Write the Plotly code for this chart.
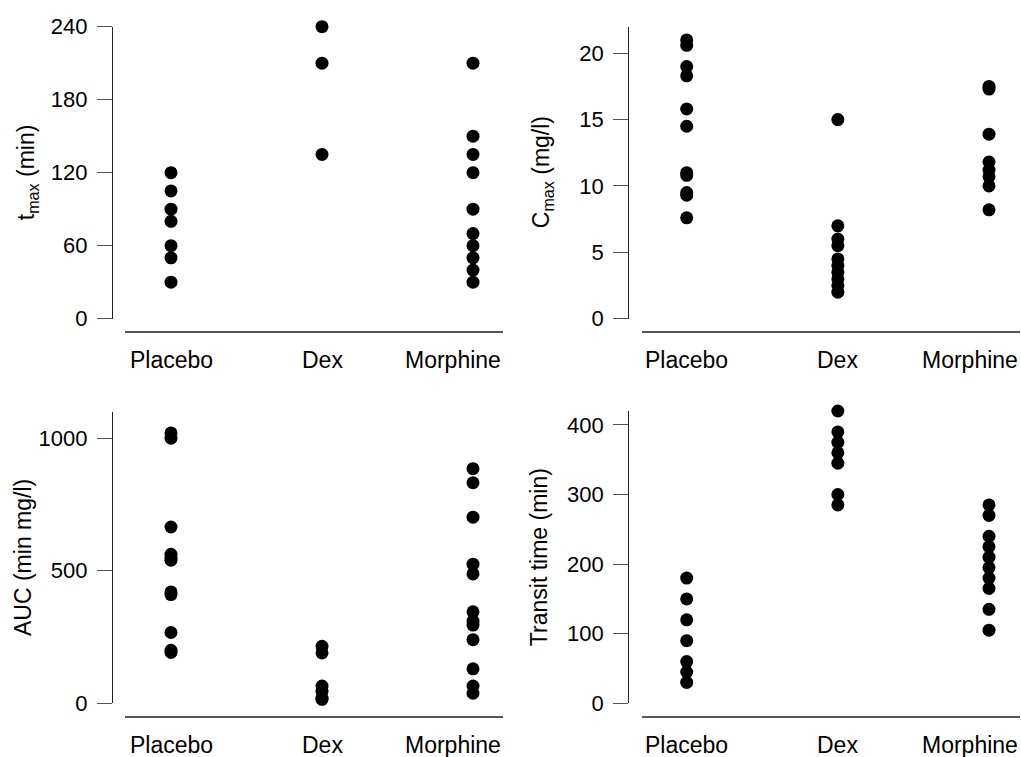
import plotly.graph_objects as go

# Treatment groups shown on every panel
categories = ["Placebo", "Dex", "Morphine"]

# t_max (min)
tmax_placebo = [120, 105, 90, 80, 60, 50, 30]
tmax_dex = [240, 210, 135]
tmax_morphine = [210, 150, 135, 120, 90, 70, 60, 50, 40, 30]

# C_max (mg/l)
cmax_placebo = [21.0, 20.6, 19.0, 18.3, 15.8, 14.5, 11.0, 10.8, 9.5, 9.3, 7.6]
cmax_dex = [15.0, 7.0, 6.0, 5.5, 4.5, 4.0, 3.5, 3.0, 2.5, 2.0]
cmax_morphine = [17.5, 17.3, 13.9, 11.8, 11.2, 10.7, 10.0, 8.2]

# AUC (min mg/l)
auc_placebo = [1020, 1000, 665, 562, 550, 540, 420, 410, 267, 200, 192]
auc_dex = [215, 190, 65, 45, 20, 15]
auc_morphine = [885, 832, 702, 525, 488, 345, 310, 295, 240, 130, 65, 38]

# Transit time (min)
transit_placebo = [180, 150, 120, 90, 60, 45, 30]
transit_dex = [420, 390, 375, 360, 345, 300, 285]
transit_morphine = [285, 270, 240, 225, 210, 195, 180, 165, 135, 105]

W, H = 1021, 757
FONT = "Liberation Sans, Arial, Helvetica, sans-serif"


def px_x(p):
    return p / W


def px_y(p):
    return 1 - p / H


panels = [
    dict(title="t<sub>max</sub> (min)", groups=[tmax_placebo, tmax_dex, tmax_morphine],
         yrange=[0, 240], ticks=[0, 60, 120, 180, 240], title_x=27.5,
         yline_x=112, xdom=(125, 503), xcats=(171, 473), ytop=26.7, ybot=318.7, xline=331.7),
    dict(title="C<sub>max</sub> (mg/l)", groups=[cmax_placebo, cmax_dex, cmax_morphine],
         yrange=[0, 22], ticks=[0, 5, 10, 15, 20], title_x=542.5,
         yline_x=628.3, xdom=(641.7, 1020), xcats=(686.7, 989), ytop=26.7, ybot=318.7, xline=331.7),
    dict(title="AUC (min mg/l)", groups=[auc_placebo, auc_dex, auc_morphine],
         yrange=[0, 1100], ticks=[0, 500, 1000], title_x=22.5,
         yline_x=112, xdom=(125, 503), xcats=(171, 473), ytop=411.7, ybot=703.3, xline=716.7),
    dict(title="Transit time (min)", groups=[transit_placebo, transit_dex, transit_morphine],
         yrange=[0, 420], ticks=[0, 100, 200, 300, 400], title_x=539,
         yline_x=628.3, xdom=(641.7, 1020), xcats=(686.7, 989), ytop=411.0, ybot=703.3, xline=716.7),
]

fig = go.Figure()
annotations = []
layout = dict(
    template="none",
    width=W, height=H,
    margin=dict(l=0, r=0, t=0, b=0, autoexpand=False),
    paper_bgcolor="white", plot_bgcolor="white",
    showlegend=False,
    font=dict(family=FONT, size=22, color="black"),
)

for i, p in enumerate(panels, start=1):
    sfx = "" if i == 1 else str(i)
    xs, ys = [], []
    for cat, vals in zip(categories, p["groups"]):
        xs += [cat] * len(vals)
        ys += vals
    fig.add_trace(go.Scatter(
        x=xs, y=ys, mode="markers", xaxis="x" + sfx, yaxis="y" + sfx,
        marker=dict(size=13, color="black", line=dict(width=0)),
        cliponaxis=False, hoverinfo="skip",
    ))

    # category index range so that Placebo and Morphine sit at their pixel centres
    x0, x1 = p["xdom"]
    c0, c1 = p["xcats"]
    step = (c1 - c0) / 2
    xr = [(x0 - c0) / step, 2 + (x1 - c1) / step]

    layout["xaxis" + sfx] = dict(
        type="category", categoryorder="array", categoryarray=categories,
        domain=[px_x(x0), px_x(x1)], range=xr,
        anchor="free", position=px_y(p["xline"]),
        automargin=False,
        showline=True, linecolor="#555", linewidth=2,
        showgrid=False, zeroline=False,
        ticks="", showticklabels=False,
        fixedrange=True,
    )
    layout["yaxis" + sfx] = dict(
        domain=[px_y(p["ybot"]), px_y(p["ytop"])], range=p["yrange"],
        anchor="free", position=px_x(p["yline_x"]),
        automargin=False,
        tickvals=p["ticks"],
        showline=True, linecolor="#222", linewidth=1.3,
        showgrid=False, zeroline=False,
        ticks="outside", ticklen=15, tickwidth=1.3, tickcolor="#555",
        ticklabelstandoff=5,
        tickfont=dict(size=22, family=FONT, color="black"),
        fixedrange=True,
    )

    # category labels under the baseline; the last one is kept inside the axis end
    label_y = px_y(p["xline"] + 28.5)
    for j, cat in enumerate(categories):
        last = j == len(categories) - 1
        annotations.append(dict(
            text=cat, xref=("x" + sfx + " domain") if last else "x" + sfx,
            x=1 if last else cat, xanchor="right" if last else "center",
            yref="paper", y=label_y, yanchor="middle",
            showarrow=False, font=dict(size=23, family=FONT, color="black"),
        ))

    # rotated y-axis title
    annotations.append(dict(
        text=p["title"], textangle=-90,
        xref="paper", x=px_x(p["title_x"]), xanchor="center",
        yref="paper", y=px_y((p["ytop"] + p["ybot"]) / 2), yanchor="middle",
        showarrow=False, font=dict(size=23, family=FONT, color="black"),
    ))

layout["annotations"] = annotations
fig.update_layout(**layout)
fig.write_html("out.html")
